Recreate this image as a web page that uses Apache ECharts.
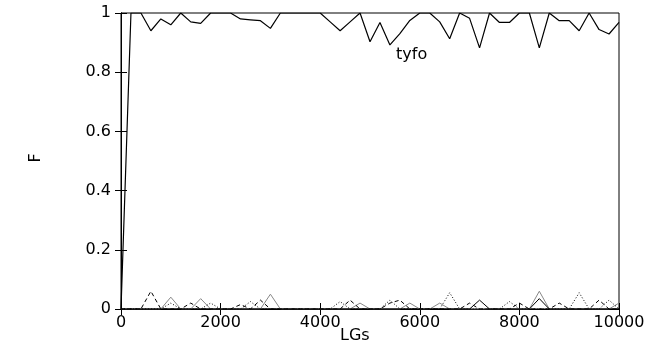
<!DOCTYPE html>
<html>
<head>
<meta charset="utf-8">
<script src="https://cdn.jsdelivr.net/npm/echarts@6/dist/echarts.min.js"></script>
<style>
    html, body {margin: 0; padding: 0; background: #fff;}
    #main {width: 658px; height: 348px;}
</style>
</head>
<body>
<div id="main"></div>
<script>
// LGs sampled every 200
var lgs = [0, 200, 400, 600, 800, 1000, 1200, 1400, 1600, 1800,
    2000, 2200, 2400, 2600, 2800, 3000, 3200, 3400, 3600, 3800,
    4000, 4200, 4400, 4600, 4800, 5000, 5200, 5400, 5600, 5800,
    6000, 6200, 6400, 6600, 6800, 7000, 7200, 7400, 7600, 7800,
    8000, 8200, 8400, 8600, 8800, 9000, 9200, 9400, 9600, 9800,
    10000];

var tyfo = [0, 1, 1, 0.94, 0.98, 0.96, 1, 0.97, 0.965, 1,
    1, 1, 0.98, 0.977, 0.974, 0.948, 1, 1, 1, 1,
    1, 0.97, 0.94, 0.97, 1, 0.903, 0.968, 0.892, 0.93, 0.975,
    1, 1, 0.97, 0.913, 1, 0.982, 0.882, 1, 0.968, 0.968,
    1, 1, 0.882, 1, 0.974, 0.974, 0.94, 1, 0.944, 0.929,
    0.968];

var other1 = [0, 0, 0, 0.06, 0, 0, 0, 0.02, 0, 0,
    0, 0, 0.015, 0, 0.03, 0, 0, 0, 0, 0,
    0, 0, 0, 0.03, 0, 0, 0, 0.02, 0.03, 0,
    0, 0, 0, 0, 0, 0.02, 0, 0, 0, 0,
    0.02, 0, 0, 0, 0.02, 0, 0, 0, 0.03, 0,
    0];

var other2 = [0, 0, 0, 0, 0, 0.02, 0, 0, 0, 0.02,
    0, 0, 0, 0.025, 0, 0, 0, 0, 0, 0,
    0, 0, 0.025, 0, 0, 0, 0, 0.03, 0, 0,
    0, 0, 0, 0.055, 0, 0, 0, 0, 0, 0.025,
    0, 0, 0, 0, 0, 0, 0.055, 0, 0, 0.03,
    0];

var other3 = [0, 0, 0, 0, 0, 0.04, 0, 0, 0.035, 0,
    0, 0, 0, 0, 0, 0.05, 0, 0, 0, 0,
    0, 0, 0, 0, 0.02, 0, 0, 0, 0, 0.02,
    0, 0, 0.02, 0, 0, 0, 0, 0, 0, 0,
    0, 0, 0.06, 0, 0, 0, 0, 0, 0, 0,
    0.02];

var other4 = [0, 0, 0, 0, 0, 0, 0, 0, 0, 0,
    0, 0, 0, 0, 0, 0, 0, 0, 0, 0,
    0, 0, 0, 0, 0, 0, 0, 0, 0, 0,
    0, 0, 0, 0, 0, 0, 0.03, 0, 0, 0,
    0, 0, 0.035, 0, 0, 0, 0, 0, 0, 0,
    0];

function pairs(vals) {
    return vals.map(function (v, i) { return [lgs[i], v]; });
}

var font = 'DejaVu Sans';
var myChart = echarts.init(document.getElementById('main'));

var tickCommon = {show: true, inside: true, length: 6, lineStyle: {color: '#000', width: 1}};

myChart.setOption({
    animation: false,
    backgroundColor: '#fff',
    grid: {left: 121, right: 39, top: 13, bottom: 39, show: true, borderColor: '#000', borderWidth: 1},
    xAxis: [{
        type: 'value', min: 0, max: 10000, interval: 2000,
        axisLine: {lineStyle: {color: '#000'}},
        axisTick: tickCommon,
        splitLine: {show: false},
        axisLabel: {color: '#000', fontFamily: font, fontSize: 16, margin: 6,
            formatter: function (v) { return String(v); }}
    }, {
        type: 'value', min: 0, max: 10000, interval: 2000, position: 'top',
        axisLine: {lineStyle: {color: '#000'}},
        axisTick: tickCommon,
        splitLine: {show: false},
        axisLabel: {show: false}
    }],
    yAxis: [{
        type: 'value', min: 0, max: 1, interval: 0.2,
        axisLine: {show: true, lineStyle: {color: '#000'}},
        axisTick: tickCommon,
        splitLine: {show: false},
        axisLabel: {color: '#000', fontFamily: font, fontSize: 16, margin: 10}
    }, {
        type: 'value', min: 0, max: 1, interval: 0.2, position: 'right',
        axisLine: {show: true, lineStyle: {color: '#000'}},
        axisTick: tickCommon,
        splitLine: {show: false},
        axisLabel: {show: false}
    }],
    graphic: [
        {type: 'text', left: 340, top: 328, style: {text: 'LGs', font: '16px "DejaVu Sans"', fill: '#000'}},
        {type: 'text', x: 36, y: 158, rotation: Math.PI / 2, style: {text: 'F', font: '16px "DejaVu Sans"', fill: '#000', align: 'center', verticalAlign: 'middle'}},
        {type: 'text', left: 396, top: 47, style: {text: 'tyfo', font: '16px "DejaVu Sans"', fill: '#000'}}
    ],
    series: [
        {
            type: 'line', data: pairs(other3), symbol: 'none',
            lineStyle: {color: '#888', width: 1}
        },
        {
            type: 'line', data: pairs(other1), symbol: 'none',
            lineStyle: {color: '#000', width: 1, type: [4, 3]}
        },
        {
            type: 'line', data: pairs(other2), symbol: 'none',
            lineStyle: {color: '#000', width: 1, type: [1, 2]}
        },
        {
            type: 'line', data: pairs(other4), symbol: 'none',
            lineStyle: {color: '#000', width: 1}
        },
        {
            type: 'line', data: pairs(tyfo), symbol: 'none',
            lineStyle: {color: '#000', width: 1.2}
        }
    ]
});
</script>
</body>
</html>
